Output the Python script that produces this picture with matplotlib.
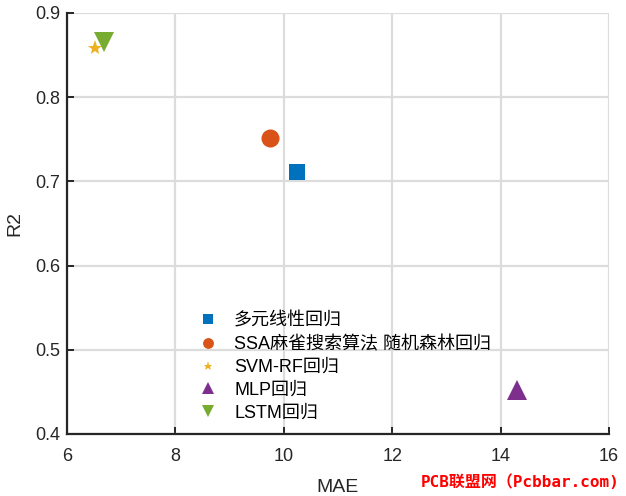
import matplotlib.pyplot as plt

plt.rcParams['font.family'] = ['Liberation Sans', 'Noto Sans CJK SC', 'DejaVu Sans']

# 各模型的误差指标 (MAE, R2)
modelos = ["多元线性回归", "SSA麻雀搜索算法 随机森林回归", "SVM-RF回归", "MLP回归", "LSTM回归"]
mae = [10.25, 9.75, 6.51, 14.3, 6.69]
r2 = [0.711, 0.752, 0.858, 0.452, 0.865]

cores = ["#0072BD", "#D95319", "#EDB120", "#7E2F8E", "#77AC30"]
marcadores = ["s", "o", "*", "^", "v"]
tamanhos = [11, 13, 11, 14, 15]

fig = plt.figure(figsize=(6.26, 4.96), dpi=100)
ax = fig.add_axes([67 / 626, 1 - 434 / 496, 542 / 626, 421 / 496])

for i in range(len(modelos)):
    ax.plot(mae[i], r2[i], linestyle="none", marker=marcadores[i], color=cores[i],
            markersize=tamanhos[i], label=modelos[i], markeredgewidth=0)

ax.set_xlim(6, 16)
ax.set_ylim(0.4, 0.9)
ax.set_xticks([6, 8, 10, 12, 14, 16])
ax.set_yticks([0.4, 0.5, 0.6, 0.7, 0.8, 0.9])
ax.set_yticklabels(["0.4", "0.5", "0.6", "0.7", "0.8", "0.9"])
ax.grid(True, color="#dcdcdc", linewidth=1.6)
ax.set_axisbelow(True)
ax.spines["top"].set_visible(False)
ax.spines["right"].set_visible(False)
for s in ["left", "bottom"]:
    ax.spines[s].set_linewidth(1.6)
    ax.spines[s].set_color("#262626")
ax.tick_params(direction="in", length=5, width=1.4, color="#262626",
               labelsize=13, labelcolor="#262626")
ax.tick_params(axis="x", pad=10)
ax.tick_params(axis="y", pad=5)

ax.set_xlabel("MAE", fontsize=14, color="#262626", labelpad=10)
ax.set_ylabel("R2", fontsize=14, color="#262626", labelpad=8)

leg = ax.legend(loc="upper left", bbox_to_anchor=(0.205, 0.327), frameon=False,
                fontsize=13, handletextpad=0.7, labelspacing=0.33,
                markerscale=0.6, handlelength=1.5)

fig.text(0.99, 0.012, "PCB联盟网（Pcbbar.com)", color="red", fontsize=11.5,
         ha="right", va="bottom", fontweight="bold",
         family=["DejaVu Sans Mono", "Noto Sans CJK SC"])

fig.savefig("out.png", dpi=100)
